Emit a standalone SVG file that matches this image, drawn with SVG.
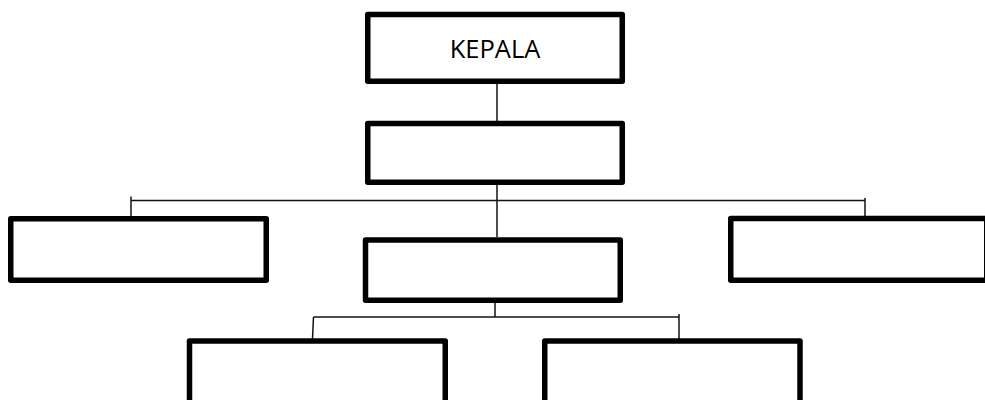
<svg xmlns="http://www.w3.org/2000/svg" width="985" height="400" viewBox="0 0 985 400">
<style>
.box{fill:#fff;stroke:#000;stroke-width:5.5;stroke-linejoin:round}
.ln{fill:none;stroke:#111;stroke-width:1.5}
.lbl{font-family:"Open Sans","Liberation Sans",sans-serif;font-size:25.5px;fill:#000;text-anchor:middle}
</style>
<rect width="985" height="400" fill="#fff"/>
<g id="connectors">
<line class="ln" x1="497" y1="84" x2="497" y2="121"/>
<line class="ln" x1="497" y1="185" x2="497" y2="237"/>
<line class="ln" x1="131" y1="200.5" x2="865" y2="200.5"/>
<line class="ln" x1="131" y1="196.5" x2="131" y2="218"/>
<line class="ln" x1="865" y1="198" x2="865" y2="218"/>
<line class="ln" x1="495" y1="298" x2="495" y2="317"/>
<line class="ln" x1="313.5" y1="317" x2="679" y2="317"/>
<line class="ln" x1="313.5" y1="317" x2="312.5" y2="339"/>
<line class="ln" x1="679" y1="314" x2="679" y2="339"/>
</g>
<g id="kepala">
<rect class="box" x="367.75" y="14.5" width="254.5" height="66.75"/>
<text class="lbl" x="495" y="58">KEPALA</text>
</g>
<g id="node2">
<rect class="box" x="367.75" y="123.5" width="254.5" height="58.75"/>
</g>
<g id="node-left">
<rect class="box" x="10.75" y="218.75" width="255.5" height="61.5"/>
</g>
<g id="node-mid">
<rect class="box" x="365.5" y="240" width="254.75" height="60.25"/>
</g>
<g id="node-right">
<rect class="box" x="730.75" y="218.5" width="256" height="61.75"/>
</g>
<g id="node-bottom-left">
<rect class="box" x="189.5" y="341" width="255.75" height="80"/>
</g>
<g id="node-bottom-right">
<rect class="box" x="544.75" y="341" width="255.25" height="80"/>
</g>
</svg>
